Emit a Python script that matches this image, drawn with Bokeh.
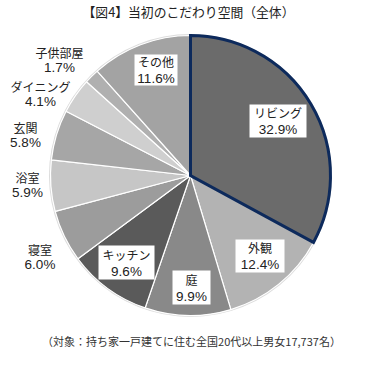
import math
from bokeh.plotting import figure
from bokeh.models import Range1d, ColumnDataSource
from bokeh.core.properties import value
from bokeh.embed import file_html
from bokeh.resources import INLINE

# ---- data ----
categories = ["リビング", "外観", "庭", "キッチン", "寝室", "浴室", "玄関", "ダイニング", "子供部屋", "その他"]
percents = [32.9, 12.4, 9.9, 9.6, 6.0, 5.9, 5.8, 4.1, 1.7, 11.6]
title_text = "【図4】当初のこだわり空間（全体）"
note_text = "（対象：持ち家一戸建てに住む全国20代以上男女17,737名）"

# ---- styles / layout ----
colors = ["#6b6b6b", "#b3b3b3", "#898989", "#5a5a5a", "#9c9c9c",
          "#c6c6c6", "#a6a6a6", "#cfcfcf", "#b0b0b0", "#a3a3a3"]
boxed = [True, True, True, True, False, False, False, False, False, True]
label_x = [277.5, 259.5, 191, 126, 39.5, 27, 25, 40, 59, 155.5]
label_y = [233.5, 98.5, 67, 92, 98, 169.5, 219.5, 261, 294.5, 284.5]
box_w = [57, 49, 38, 56, 0, 0, 0, 0, 0, 43]
box_h = [33, 33, 34, 34, 0, 0, 0, 0, 0, 31]

W, H = 368, 354
CX, CY, R = 190, 179, 140
CJK = "Noto Sans CJK JP"
LAT = "Liberation Sans"

total = sum(percents)
starts, ends = [], []
acc = 0.0
for v in percents:
    starts.append(math.pi / 2 - acc / total * 2 * math.pi)
    acc += v
    ends.append(math.pi / 2 - acc / total * 2 * math.pi)

p = figure(width=W, height=H, output_backend="svg", toolbar_location=None,
           x_range=Range1d(0, W), y_range=Range1d(0, H), min_border=0)
p.axis.visible = False
p.grid.visible = False
p.outline_line_color = None

# faint rim
p.circle(x=[CX], y=[CY], radius=R + 0.8, fill_color=None,
         line_color="#dcdcdc", line_width=1.5)

src = ColumnDataSource(dict(start=starts, end=ends, color=colors,
                            x=[CX] * len(percents), y=[CY] * len(percents)))
p.wedge(x="x", y="y", radius=R, start_angle="start", end_angle="end",
        direction="clock", fill_color="color", line_color="white",
        line_width=1.2, source=src)

# highlight first slice
p.wedge(x=[CX], y=[CY], radius=R, start_angle=[starts[0]], end_angle=[ends[0]],
        direction="clock", fill_color=None, line_color="#0d2a5c", line_width=3,
        line_join="miter")

# label boxes
bi = [i for i, b in enumerate(boxed) if b]
p.rect(x=[label_x[i] for i in bi], y=[label_y[i] for i in bi],
       width=[box_w[i] for i in bi], height=[box_h[i] for i in bi],
       fill_color="white", line_color=None)

off = [8.5 if b else 7.5 for b in boxed]
p.text(x=label_x, y=[y + o for y, o in zip(label_y, off)], text=categories,
       text_align="center", text_baseline="middle",
       text_font=value(CJK), text_font_size="12px", text_color="#222222")
p.text(x=label_x, y=[y - o for y, o in zip(label_y, off)],
       text=[f"{v:.1f}%" for v in percents],
       text_align="center", text_baseline="middle",
       text_font=value(LAT), text_font_size="13.5px", text_color="#222222")

p.text(x=[188], y=[343], text=[title_text], text_align="center",
       text_baseline="middle", text_font=value(CJK), text_font_size="12.8px",
       text_color="#222222")
p.text(x=[191], y=[14], text=[note_text], text_align="center",
       text_baseline="middle", text_font=value(CJK), text_font_size="11px",
       text_color="#333333")

open("out.html", "w").write(file_html(p, INLINE))
